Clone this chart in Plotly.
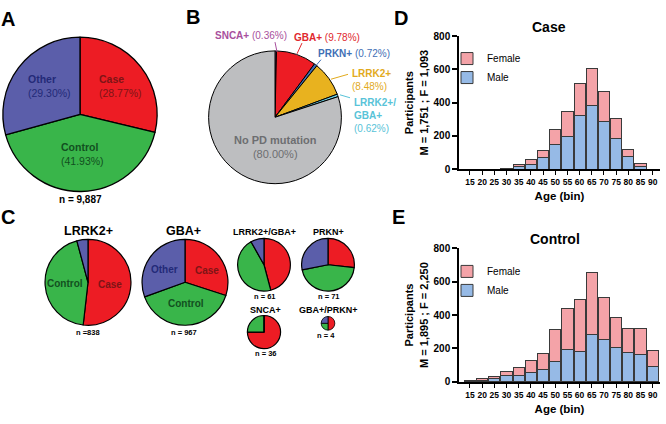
import plotly.graph_objects as go

FONT = "Liberation Sans, Arial, sans-serif"
W, H = 666, 424

# ---------------- data ----------------
# Panel A: cohort composition
a_labels = ["Case", "Control", "Other"]
a_values = [28.77, 41.93, 29.30]
a_n = "9,887"

# Panel B: PD mutation carriers (%)
b_labels = ["SNCA+", "GBA+", "PRKN+", "LRRK2+", "LRRK2+/GBA+", "No PD mutation"]
b_values = [0.36, 9.78, 0.72, 8.48, 0.62, 80.00]

# Panel C: case/control/other by genotype (counts)
c_groups = ["LRRK2+", "GBA+", "LRRK2+/GBA+", "PRKN+", "SNCA+", "GBA+/PRKN+"]
c_n = [838, 967, 61, 71, 36, 4]
c_case = [434, 290, 28, 19, 27, 2]
c_control = [369, 382, 28, 32, 9, 1]
c_other = [35, 295, 5, 20, 0, 1]

# Panels D/E: age distribution
age_bins = ["15", "20", "25", "30", "35", "40", "45", "50",
            "55", "60", "65", "70", "75", "80", "85", "90"]
case_male = [0, 0, 0, 3, 15, 30, 70, 147, 194, 325, 384, 284, 184, 73, 16, 0]
case_female = [0, 0, 0, 1, 10, 25, 44, 94, 155, 189, 220, 181, 122, 43, 15, 0]
control_male = [6, 10, 18, 37, 39, 55, 74, 119, 193, 181, 285, 254, 207, 174, 166, 94]
control_female = [4, 8, 15, 27, 49, 72, 98, 195, 246, 309, 369, 249, 177, 148, 156, 92]
case_counts = "M = 1,751 ; F = 1,093"
control_counts = "M = 1,895 ; F = 2,250"

# ---------------- styling ----------------
RED, GREEN, BLUE = "#ED1C24", "#39B54A", "#5B5EAA"
ABC_COLORS = [RED, GREEN, BLUE]
B_COLORS = ["#B04FA2", "#ED1C24", "#3F6FB5", "#E8B21F", "#6DCFE0", "#BDBEC0"]
B_TEXT = ["#A8509D", "#E0282E", "#3F6FB5", "#E2AA1C", "#58C3D8", "#6D6E71"]
MALE_C, FEMALE_C = "#96BAE6", "#F4A3A8"
EDGE = "#3a3a3a"


def px(x):
    return x / W


def py(y):
    return 1 - y / H


def dom(cx, cy, r):
    return dict(x=[px(cx - r), px(cx + r)], y=[py(cy + r), py(cy - r)])


fig = go.Figure()

pie_common = dict(sort=False, direction="clockwise", rotation=0, textinfo="none",
                  hoverinfo="label+value", showlegend=False)

# Panel A
fig.add_trace(go.Pie(labels=a_labels, values=a_values, domain=dom(80, 112, 79),
                     marker=dict(colors=ABC_COLORS, line=dict(color="black", width=1.3)),
                     **pie_common))
# Panel B
fig.add_trace(go.Pie(labels=b_labels, values=b_values, domain=dom(275, 115, 68),
                     marker=dict(colors=B_COLORS, line=dict(color="black", width=1.0)),
                     **pie_common))
# Panel C
c_geom = [(88, 284, 44), (185, 284, 44), (264, 266, 27), (328, 266, 27), (264, 335, 17), (328, 326, 7)]
for i, g in enumerate(c_groups):
    cx, cy, r = c_geom[i]
    fig.add_trace(go.Pie(labels=a_labels, values=[c_case[i], c_control[i], c_other[i]],
                         domain=dom(cx, cy, r),
                         marker=dict(colors=ABC_COLORS, line=dict(color="black", width=1.2 if r > 10 else 0.8)),
                         **pie_common))

# Panels D & E
bar_common = dict(marker_line_color=EDGE, marker_line_width=1)
fig.add_trace(go.Bar(x=age_bins, y=case_male, name="Male", marker_color=MALE_C,
                     xaxis="x", yaxis="y", legend="legend", **bar_common))
fig.add_trace(go.Bar(x=age_bins, y=case_female, name="Female", marker_color=FEMALE_C,
                     xaxis="x", yaxis="y", legend="legend", **bar_common))
fig.add_trace(go.Bar(x=age_bins, y=control_male, name="Male", marker_color=MALE_C,
                     xaxis="x2", yaxis="y2", legend="legend2", **bar_common))
fig.add_trace(go.Bar(x=age_bins, y=control_female, name="Female", marker_color=FEMALE_C,
                     xaxis="x2", yaxis="y2", legend="legend2", **bar_common))

xax = dict(type="category", range=[-0.9, 15.6], showline=True, linecolor="black", linewidth=1.5,
           ticks="outside", ticklen=4, tickwidth=1, tickcolor="black",
           tickfont=dict(family=FONT, size=8.5, color="black", weight="bold"),
           showgrid=False, zeroline=False, fixedrange=True,
           title=dict(text="Age (bin)", font=dict(family=FONT, size=11.5, color="black", weight="bold"),
                      standoff=6),
           domain=[px(459), px(660)])
yax = dict(range=[0, 800], dtick=200, showline=True, linecolor="black", linewidth=1.5,
           ticks="outside", ticklen=5, tickwidth=1.5, tickcolor="black",
           tickfont=dict(family=FONT, size=10, color="black", weight="bold"),
           showgrid=False, zeroline=False, fixedrange=True)

annotations = []


def ann(x, y, text, size, color="black", bold=False, xanchor="center", align="center", **kw):
    t = f"<b>{text}</b>" if bold else text
    annotations.append(dict(x=px(x), y=py(y), xref="paper", yref="paper", text=t, showarrow=False,
                            xanchor=xanchor, yanchor="middle", align=align,
                            font=dict(family=FONT, size=size, color=color), **kw))


# panel letters
for letter, (lx, ly) in zip("ABCDE", [(8, 14), (193, 12), (8, 217), (401, 13), (398, 217)]):
    ann(lx, ly, letter, 20, bold=True)

# Panel A labels
a_txt_col = ["#7E1416", "#12501F", "#232A78"]
a_pos = [(97, 83), (59, 153), (26, 83)]
for lab, v, col, (x, y) in zip(a_labels, a_values, a_txt_col, a_pos):
    ann(x, y, f"<b>{lab}</b><br>({v:.2f}%)", 10.5, col, xanchor="left", align="left")
ann(80, 199, f"n = {a_n}", 10, bold=True)

# Panel B labels
b_pos = [(289, 31, "right"), (292, 33, "left"), (316, 50, "left"), (350, 77, "left"), (352, 113, "left")]
b_txt = [f"<b>{b_labels[0]}</b> ({b_values[0]:.2f}%)",
         f"<b>{b_labels[1]}</b> ({b_values[1]:.2f}%)",
         f"<b>{b_labels[2]}</b> ({b_values[2]:.2f}%)",
         f"<b>{b_labels[3]}</b><br>({b_values[3]:.2f}%)",
         "<b>LRRK2+/<br>GBA+</b><br>" + f"({b_values[4]:.2f}%)"]
for (x, y, xa), t, col in zip(b_pos, b_txt, B_TEXT):
    ann(x, y, t, 10, col, xanchor=xa, align="left")
ann(275, 145, f"<b>{b_labels[5]}</b><br>({b_values[5]:.2f}%)", 11, B_TEXT[5])

shapes = []
b_lines = [((275, 38), (277, 48)), ((302, 39), (297, 50)), ((321, 56), (316, 62)),
           ((348, 71), (331, 76)), ((350, 95), (340, 92))]
for ((x0, y0), (x1, y1)), col in zip(b_lines, B_TEXT):
    shapes.append(dict(type="line", xref="paper", yref="paper", x0=px(x0), y0=py(y0), x1=px(x1), y1=py(y1),
                       line=dict(color=col, width=1)))

# Panel C titles and labels
c_title_pos = [(88, 231, 12.5), (183, 231, 12.5), (264, 232, 9), (328, 232, 9), (265, 312, 9), (328, 312, 9)]
c_n_pos = [(88, 335, "n ="), (184, 335, "n = "), (264, 299, "n = "), (328, 299, "n = "), (265, 357, "n = "), (326, 338, "n = ")]
for g, (x, y, s) in zip(c_groups, c_title_pos):
    ann(x, y, g, s, bold=True)
for n, (x, y, pre) in zip(c_n, c_n_pos):
    ann(x, y, f"{pre}{n}", 7.5, bold=True)
ann(65, 285, "Control", 10, "#12501F", bold=True)
ann(110, 286, "Case", 10, "#7E1416", bold=True)
ann(164, 271, "Other", 10, "#232A78", bold=True)
ann(207, 272, "Case", 10, "#7E1416", bold=True)
ann(186, 306, "Control", 10, "#12501F", bold=True)

# D/E titles
ann(549, 23, "Case", 14, bold=True)
ann(555, 240, "Control", 14, bold=True)

ytitle_font = dict(family=FONT, size=11, color="black", weight="bold")
leg_common = dict(xanchor="left", yanchor="top", bgcolor="rgba(0,0,0,0)", traceorder="reversed",
                  font=dict(family=FONT, size=10, color="black"), itemwidth=30,
                  tracegroupgap=0)

fig.update_layout(
    width=W, height=H, autosize=False,
    margin=dict(l=0, r=0, t=0, b=0),
    paper_bgcolor="white", plot_bgcolor="white",
    barmode="stack", bargap=0.08,
    xaxis=dict(xax, anchor="y"),
    yaxis=dict(yax, anchor="x", domain=[py(168), py(32)],
               title=dict(text=f"Participants<br>{case_counts}", font=ytitle_font, standoff=3)),
    xaxis2=dict(xax, anchor="y2"),
    yaxis2=dict(yax, anchor="x2", domain=[py(386), py(249)],
                title=dict(text=f"Participants<br>{control_counts}", font=ytitle_font, standoff=3)),
    legend=dict(leg_common, x=px(447), y=py(40)),
    legend2=dict(leg_common, x=px(447), y=py(258)),
    annotations=annotations,
    shapes=shapes,
)

fig.write_html("out.html", config={"displayModeBar": False},
               post_script="document.body.style.margin='0';")
